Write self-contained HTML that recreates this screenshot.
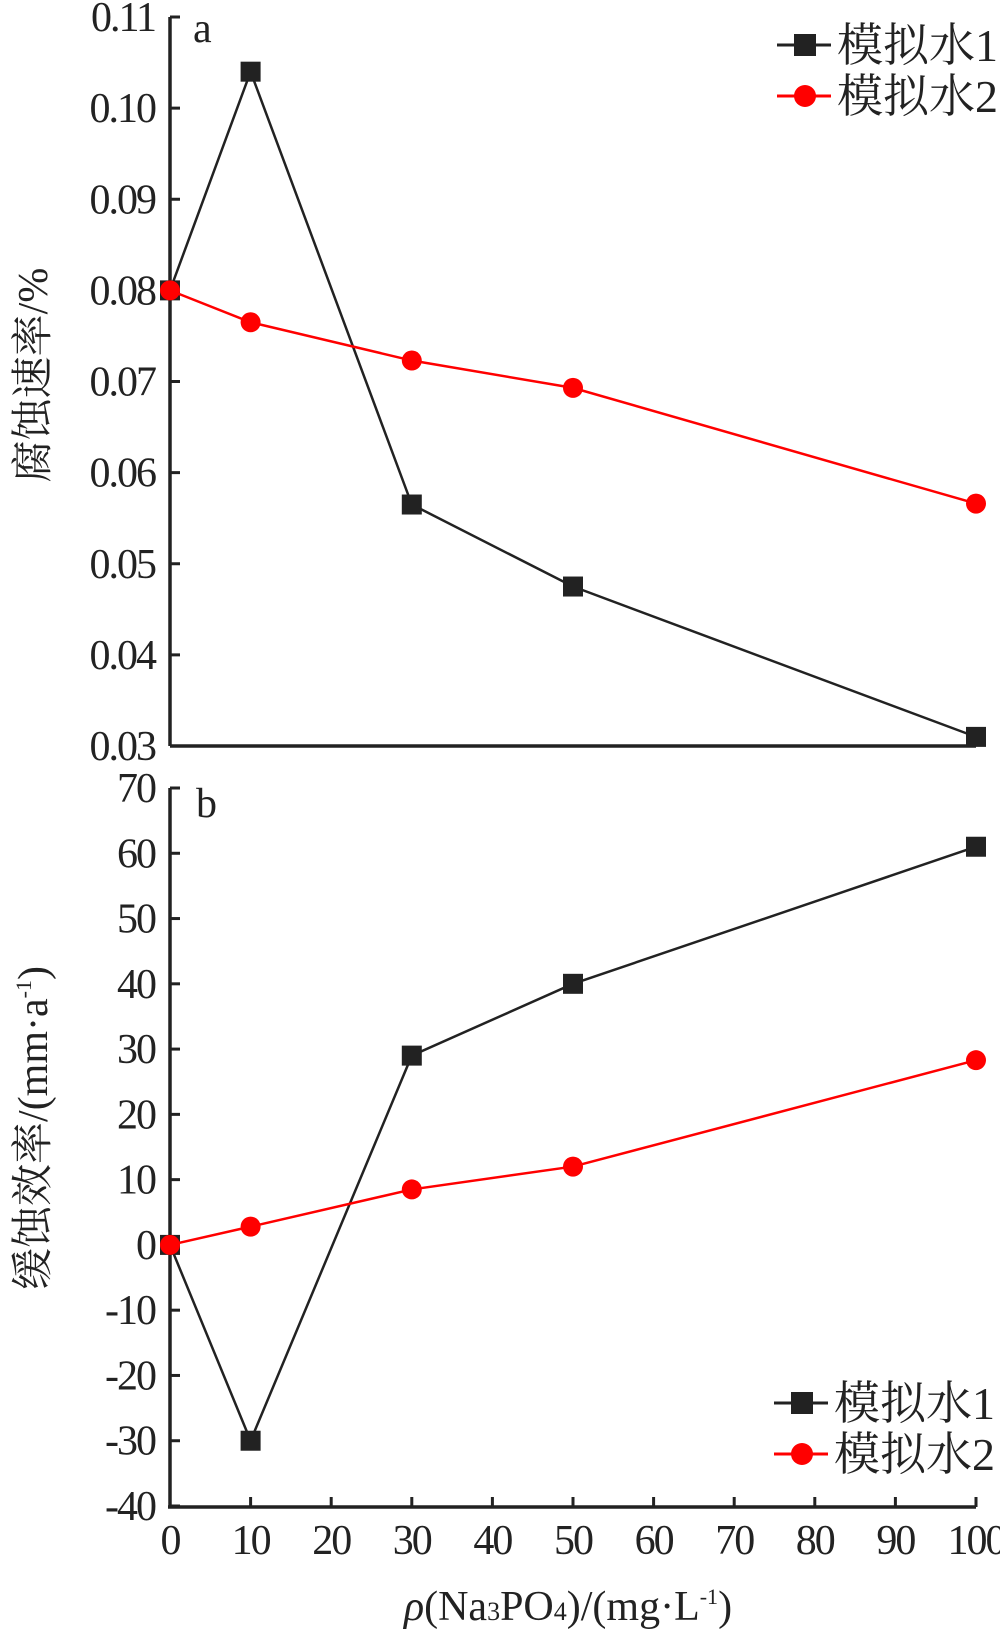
<!DOCTYPE html>
<html><head><meta charset="utf-8"><style>
html,body{margin:0;padding:0;background:#fff;}
svg{display:block;font-family:"Liberation Serif","Noto Serif CJK SC",serif;}
</style></head><body>
<svg id="chart" width="1000" height="1634" viewBox="0 0 1000 1634" xmlns="http://www.w3.org/2000/svg"></svg>
<script>
const xCats=[0,10,30,50,100];
const xTicks=[0,10,20,30,40,50,60,70,80,90,100];
const aTicks=[0.03,0.04,0.05,0.06,0.07,0.08,0.09,0.10,0.11];
const aTickLabels=["0.03","0.04","0.05","0.06","0.07","0.08","0.09","0.10","0.11"];
const aSeries1=[0.080,0.104,0.0565,0.0475,0.031];
const aSeries2=[0.080,0.0765,0.0723,0.0693,0.0566];
const bTicks=[-40,-30,-20,-10,0,10,20,30,40,50,60,70];
const bSeries1=[0,-30,29,40,61];
const bSeries2=[0,2.8,8.5,12,28.3];
const seriesNames=["模拟水1","模拟水2"];

const NS="http://www.w3.org/2000/svg";
const svg=document.getElementById('chart');
function mk(tag,attrs,parent,text){const e=document.createElementNS(NS,tag);for(const k in attrs)e.setAttribute(k,attrs[k]);if(text!==undefined)e.textContent=text;(parent||svg).appendChild(e);return e;}
const X0=170,X1=976;
const xs=v=>X0+(v-0)/100*(X1-X0);
const ya=v=>746-(v-0.03)/0.08*(746-17);
const yb=v=>1506-(v+40)/110*(1506-788);

let ga=mk('g',{});


let l=mk('line',{x1:X0,y1:17,x2:X0,y2:746,stroke:'#222','stroke-width':3.5},ga);


l=mk('line',{x1:X0,y1:746,x2:X1,y2:746,stroke:'#222','stroke-width':3.5},ga);


aTicks.forEach((t,i)=>{
  const y=ya(t);
  mk('line',{x1:X0,y1:y,x2:X0+10,y2:y,stroke:'#222','stroke-width':3},ga);
  const tx=mk('text',{x:155,y:y+14,'text-anchor':'end','font-size':42,'letter-spacing':-2,fill:'#222'},ga,aTickLabels[i]);
  
  
});
let lab=mk('text',{x:193,y:42,'font-size':42,fill:'#222'},ga,'a');


let yt=mk('text',{x:0,y:0,'font-size':42,fill:'#222','text-anchor':'middle',transform:'translate(47,375) rotate(-90)'},ga,'腐蚀速率/%');



let gb=mk('g',{});


l=mk('line',{x1:X0,y1:788,x2:X0,y2:1508,stroke:'#222','stroke-width':3.5},gb);


l=mk('line',{x1:X0-2,y1:1507,x2:X1,y2:1507,stroke:'#222','stroke-width':3.5},gb);


bTicks.forEach(t=>{
  const y=yb(t);
  mk('line',{x1:X0,y1:y,x2:X0+10,y2:y,stroke:'#222','stroke-width':3},gb);
  const tx=mk('text',{x:155,y:y+14,'text-anchor':'end','font-size':42,'letter-spacing':-2,fill:'#222'},gb,String(t));
  
  
});
xTicks.forEach(t=>{
  const x=xs(t);
  mk('line',{x1:x,y1:1507,x2:x,y2:1497,stroke:'#222','stroke-width':3},gb);
  const tx=mk('text',{x:x,y:1554,'text-anchor':'middle','font-size':42,'letter-spacing':-2,fill:'#222'},gb,String(t));
  
  
});
lab=mk('text',{x:196,y:817,'font-size':42,fill:'#222'},gb,'b');


yt=mk('text',{x:0,y:0,'font-size':42,fill:'#222','text-anchor':'middle',transform:'translate(47,1128) rotate(-90)'},gb);


yt.innerHTML='缓蚀效率/(mm·a<tspan font-size="22" dy="-16">-1</tspan><tspan dy="16">)</tspan>';
let xt=mk('text',{x:568,y:1620,'text-anchor':'middle','font-size':42,fill:'#222'},svg);


xt.innerHTML='<tspan font-style="italic">ρ</tspan>(Na<tspan font-size="26">3</tspan>PO<tspan font-size="26">4</tspan>)/(mg·L<tspan font-size="22" dy="-16">-1</tspan><tspan dy="16">)</tspan>';

function drawSeries(g,vals,yf,color,shape,name){
  const pts=vals.map((v,i)=>[xs(xCats[i]),yf(v)]);
  const p=mk('polyline',{points:pts.map(p=>p.join(',')).join(' '),fill:'none',stroke:color,'stroke-width':2.5},g);
  
  
  pts.forEach(([x,y])=>{
    let m;
    if(shape==='sq') m=mk('rect',{x:x-10,y:y-10,width:20,height:20,fill:'#222'},g);
    else m=mk('circle',{cx:x,cy:y,r:10,fill:'#f00'},g);
    
    
  });
}
drawSeries(ga,aSeries1,ya,'#222','sq','series-1-a');
drawSeries(ga,aSeries2,ya,'#f00','ci','series-2-a');
drawSeries(gb,bSeries1,yb,'#222','sq','series-1-b');
drawSeries(gb,bSeries2,yb,'#f00','ci','series-2-b');

function legend(x0,y0,name){
  const g=mk('g',{});
  
  
  mk('line',{x1:x0,y1:y0,x2:x0+54,y2:y0,stroke:'#222','stroke-width':3},g);
  mk('rect',{x:x0+17,y:y0-11,width:22,height:22,fill:'#222'},g);
  let t=mk('text',{x:x0+60,y:y0+16,'font-size':46,fill:'#222'},g,seriesNames[0]);
  
  
  mk('line',{x1:x0,y1:y0+51,x2:x0+54,y2:y0+51,stroke:'#f00','stroke-width':3},g);
  mk('circle',{cx:x0+28,cy:y0+51,r:11,fill:'#f00'},g);
  t=mk('text',{x:x0+60,y:y0+67,'font-size':46,fill:'#222'},g,seriesNames[1]);
  
  
}
legend(777,45,'legend-a');
legend(774,1403,'legend-b');
</script>
</body></html>
